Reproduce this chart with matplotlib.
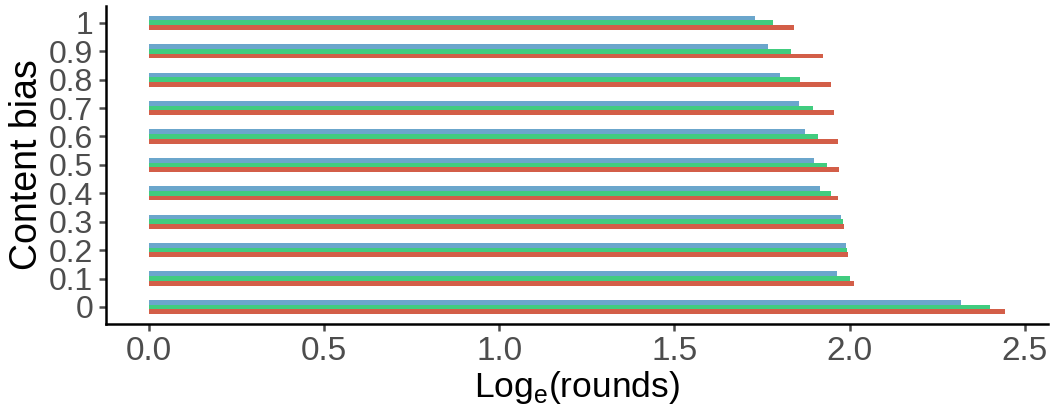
import numpy as np
import matplotlib.pyplot as plt

plt.rcParams['font.family'] = ['Liberation Sans', 'DejaVu Sans']

# content bias categories (bottom to top)
bias_labels = ['0', '0.1', '0.2', '0.3', '0.4', '0.5', '0.6', '0.7', '0.8', '0.9', '1']

# log_e(rounds) for the three series
red_vals = [2.444, 2.013, 1.996, 1.984, 1.967, 1.970, 1.967, 1.956, 1.947, 1.924, 1.842]
green_vals = [2.401, 2.001, 1.993, 1.981, 1.947, 1.936, 1.910, 1.896, 1.859, 1.833, 1.782]
blue_vals = [2.319, 1.964, 1.990, 1.976, 1.916, 1.899, 1.873, 1.856, 1.802, 1.768, 1.731]

colors = ['#D35E48', '#41CC7F', '#6BA6CC']
series = [red_vals, green_vals, blue_vals]

fig = plt.figure(figsize=(10.64, 4.12), dpi=100)
ax = fig.add_axes([0.0996, 0.2136, 0.8854, 0.7724])

y = np.arange(len(bias_labels))
h = 0.5 / 3
for i, (vals, c) in enumerate(zip(series, colors)):
    ax.barh(y + (i - 1) * h, vals, height=h, color=c, linewidth=0)

ax.set_xlim(-0.122, 2.566)
ax.set_ylim(-0.6, len(bias_labels) - 0.4)
ax.set_xticks([0.0, 0.5, 1.0, 1.5, 2.0, 2.5])
ax.set_xticklabels(['0.0', '0.5', '1.0', '1.5', '2.0', '2.5'])
ax.set_yticks(y)
ax.set_yticklabels(bias_labels)

for s in ['top', 'right']:
    ax.spines[s].set_visible(False)
for s in ['left', 'bottom']:
    ax.spines[s].set_linewidth(1.8)
    ax.spines[s].set_color('black')

ax.tick_params(axis='x', labelsize=24, colors='#4D4D4D', length=5, width=1.8, pad=4)
ax.tick_params(axis='y', labelsize=23, colors='#4D4D4D', length=5, width=1.8, pad=4)

ax.set_xlabel('Log$_\\mathregular{e}$(rounds)', fontsize=25.5, color='black', labelpad=1)
ax.set_ylabel('Content bias', fontsize=27, color='black', labelpad=3)

fig.savefig('out.png', dpi=100)
